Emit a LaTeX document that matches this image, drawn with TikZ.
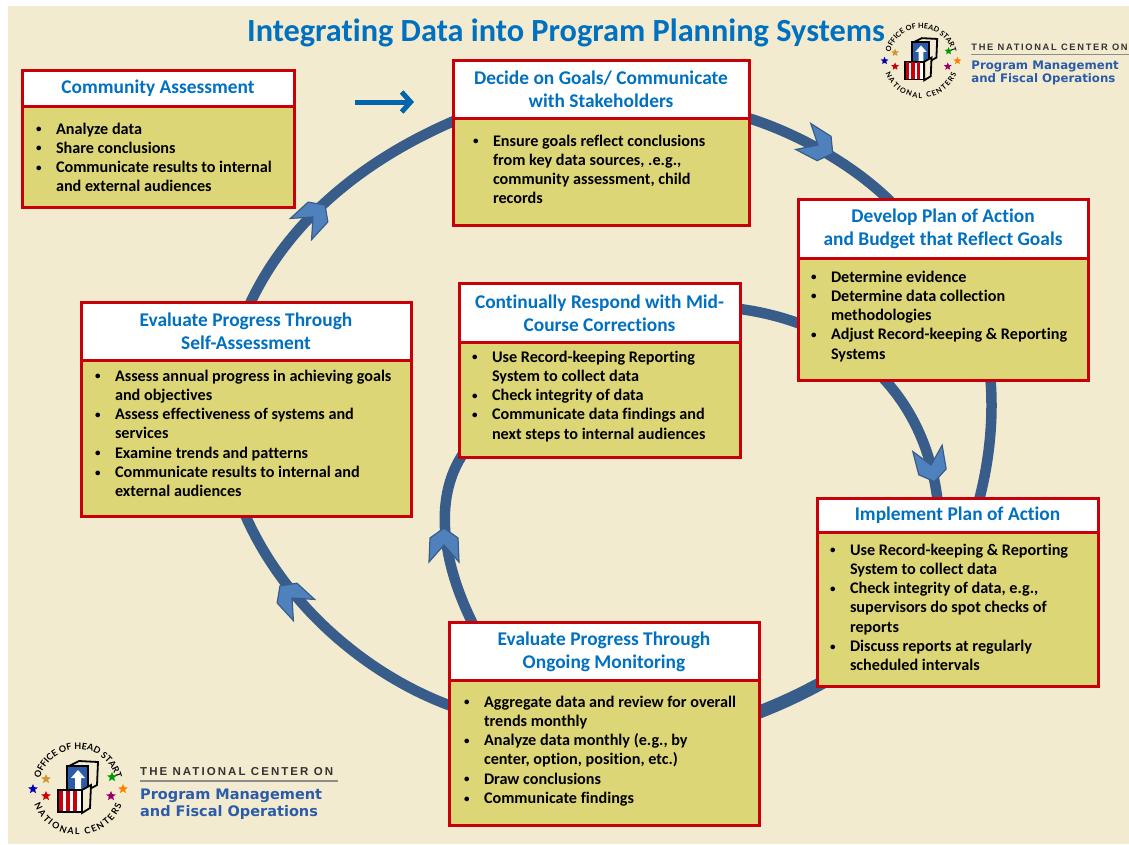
\documentclass[tikz,border=0pt]{standalone}
\usepackage{fontspec}
\setmainfont[Ligatures=NoCommon]{Carlito}
\newfontfamily\ringfont{Lato}
\newfontfamily\centerfont[LetterSpace=18]{Liberation Sans}
\newfontfamily\programfont{DejaVu Sans}
\usetikzlibrary{calc,arrows.meta,backgrounds,shapes.geometric,decorations.text}

\definecolor{paper}{RGB}{243,235,208}
\definecolor{boxred}{RGB}{200,0,10}
\definecolor{boxyellow}{RGB}{221,214,118}
\definecolor{headblue}{RGB}{0,112,192}
\definecolor{ringblue}{RGB}{56,93,138}
\definecolor{tipblue}{RGB}{79,129,189}
\definecolor{logoblue}{RGB}{42,92,170}

\tikzset{
	headbox/.style={draw=boxred,fill=white,line width=3pt,outer sep=0pt,inner sep=0pt,anchor=north west,
		align=center,text=headblue,font=\fontsize{19.4}{23}\selectfont\bfseries},
	bodybox/.style={draw=boxred,fill=boxyellow,line width=3pt,outer sep=0pt,inner sep=0pt,anchor=north west,
		font=\fontsize{16.2}{19.3}\selectfont\bfseries},
	ring/.style={draw=ringblue,line width=10.5pt},
	tipshape/.style={draw=ringblue,fill=tipblue,line width=1.2pt},
	logostar/.style={star,star points=5,star point ratio=2.2,inner sep=0pt,minimum size=10pt}
}

\newcommand{\bl}{\makebox[20pt][l]{\raisebox{1.5pt}{\fontsize{11}{11}\selectfont\textbullet}}}
\newcommand{\cl}{\hspace*{20pt}}
\newcommand{\bodytext}[5]{\parbox[c][#2pt][t]{#1pt}{\raggedright\leftskip=#3pt\relax\noindent\rule{0pt}{#4pt}\ignorespaces#5\par}}
\def\ringtip(#1,#2)[#3]{\draw[tipshape,shift={(#1,#2)},rotate=#3] (17,0) -- (7,14) -- (-17,15) -- (0,0) -- (-17,-15) -- (7,-14) -- cycle;}

\def\centerlogo(#1,#2)[#3][#4]{
	\pgfmathsetmacro{\ringsize}{9*#3}
	\begin{scope}[shift={(#1,#2)},scale=#3,name prefix=#4,every node/.append style={transform shape}]
		\path[decorate,decoration={text along path,text align={fit to path},text={|\fontsize{\ringsize}{\ringsize}\selectfont\ringfont\bfseries|OFFICE OF HEAD START}}]
			(166:39pt) arc[start angle=166,end angle=14,radius=39pt];
		\path[decorate,decoration={text along path,text align={fit to path},text={|\fontsize{\ringsize}{\ringsize}\selectfont\ringfont\bfseries|NATIONAL CENTERS}}]
			(201:47pt) arc[start angle=201,end angle=339,radius=47pt];

		\draw[fill=paper,line width=1.8pt] (-9,-22) -- (1,-27) -- (20,-26) -- (19,-3) -- (10,2) -- cycle;
		\draw[fill=logoblue,line width=1.8pt] (-11,-22) rectangle (10,2);
		\fill[white] (0,-18) -- (7,-10) -- (3,-10) -- (3,1) -- (-3,1) -- (-3,-10) -- (-7,-10) -- cycle;
		\draw[fill=paper,line width=1.8pt] (4,2) -- (13,-3) -- (12,20) -- (4,25) -- cycle;
		\draw[fill=white,line width=1.8pt] (-20,2) rectangle (4,24);
		\fill[boxred] (-19,3) rectangle (-15,23);
		\fill[boxred] (-12,3) rectangle (-8,23);
		\fill[boxred] (-5,3) rectangle (-1,23);

		\node[logostar,fill=brown!80!yellow] (star1) at (-32,-9) {};
		\node[logostar,fill=blue!70!black] (star2) at (-45,1) {};
		\node[logostar,fill=red!80!black] (star3) at (-32,8) {};
		\node[logostar,fill=green!60!black] (star4) at (34,-11) {};
		\node[logostar,fill=orange] (star5) at (45,1) {};
		\node[logostar,fill=violet!80!red] (star6) at (33,8) {};

		\node[anchor=west,inner sep=0pt,text=black!80,font=\fontsize{11.5}{12}\selectfont\centerfont\bfseries] (center) at (62,-16) {THE NATIONAL CENTER ON};
		\draw[black!45,line width=1.2pt] (62,-7) -- (260,-7);
		\node[anchor=west,inner sep=0pt,text=logoblue,font=\fontsize{14.5}{15}\selectfont\programfont\bfseries] (program) at (62,8) {Program Management};
		\node[anchor=west,inner sep=0pt,text=logoblue,font=\fontsize{14.5}{15}\selectfont\programfont\bfseries] (fiscal) at (62,24) {and Fiscal Operations};
	\end{scope}
}

\begin{document}
\begin{tikzpicture}[x=1pt,y=-1pt]
	\useasboundingbox (0,0) rectangle (1129,844);

	%%%%% TITLE %%%%%
	\node[text=headblue,inner sep=0pt,font=\fontsize{32.3}{34}\selectfont\bfseries] (title) at (566,33) {Integrating Data into Program Planning Systems};

	%%%%% BOXES %%%%%
	\node[headbox,minimum width=272pt,minimum height=36pt] (communityhead) at (22,70) {\rule{0pt}{15pt}Community Assessment};
	\node[bodybox] (communitybody) at (communityhead.south west) {\bodytext{272}{101}{14}{28}{
		\bl Analyze data\\
		\bl Share conclusions\\
		\bl Communicate results to internal\\
		\cl and external audiences}};

	\node[headbox,minimum width=296pt,minimum height=58pt] (goalhead) at (453,60) {\rule{0pt}{15pt}Decide on Goals/ Communicate\\with Stakeholders};
	\node[bodybox] (goalbody) at (goalhead.south west) {\bodytext{296}{107}{20}{28}{
		\bl Ensure goals reflect conclusions\\
		\cl from key data sources, .e.g.,\\
		\cl community assessment, child\\
		\cl records}};

	\node[headbox,minimum width=290pt,minimum height=59pt] (planhead) at (798,199) {\rule{0pt}{15pt}Develop Plan of Action\\and Budget that Reflect Goals};
	\node[bodybox] (planbody) at (planhead.south west) {\bodytext{290}{122}{13}{24}{
		\bl Determine evidence\\
		\bl Determine data collection\\
		\cl methodologies\\
		\bl Adjust Record-keeping \& Reporting\\
		\cl Systems}};

	\node[headbox,minimum width=281pt,minimum height=59pt] (respondhead) at (459,283) {\rule{0pt}{15pt}Continually Respond with Mid-\\Course Corrections};
	\node[bodybox] (respondbody) at (respondhead.south west) {\bodytext{281}{115}{13}{20}{
		\bl Use Record-keeping Reporting\\
		\cl System to collect data\\
		\bl Check integrity of data\\
		\bl Communicate data findings and\\
		\cl next steps to internal audiences}};

	\node[headbox,minimum width=330pt,minimum height=58pt] (selfhead) at (81,302) {\rule{0pt}{15pt}Evaluate Progress Through\\Self-Assessment};
	\node[bodybox] (selfbody) at (selfhead.south west) {\bodytext{330}{156}{14}{21}{
		\bl Assess annual progress in achieving goals\\
		\cl and objectives\\
		\bl Assess effectiveness of systems and\\
		\cl services\\
		\bl Examine trends and patterns\\
		\bl Communicate results to internal and\\
		\cl external audiences}};

	\node[headbox,minimum width=281pt,minimum height=34pt] (implementhead) at (817,498) {\rule{0pt}{15pt}Implement Plan of Action};
	\node[bodybox] (implementbody) at (implementhead.south west) {\bodytext{281}{154}{13}{23}{
		\bl Use Record-keeping \& Reporting\\
		\cl System to collect data\\
		\bl Check integrity of data, e.g.,\\
		\cl supervisors do spot checks of\\
		\cl reports\\
		\bl Discuss reports at regularly\\
		\cl scheduled intervals}};

	\node[headbox,minimum width=310pt,minimum height=58pt] (monitorhead) at (449,622) {\rule{0pt}{15pt}Evaluate Progress Through\\Ongoing Monitoring};
	\node[bodybox] (monitorbody) at (monitorhead.south west) {\bodytext{310}{145}{15}{27}{
		\bl Aggregate data and review for overall\\
		\cl trends monthly\\
		\bl Analyze data monthly (e.g., by\\
		\cl center, option, position, etc.)\\
		\bl Draw conclusions\\
		\bl Communicate findings}};

	%%%%% RINGS %%%%%
	\begin{scope}[on background layer]
		\fill[paper] (8,6) rectangle (1129,844);

		\draw[ring] ($(selfhead.north west)+(167,6)$) .. controls (285,225) and (360,160) .. ($(goalbody.north west)+(8,0)$);
		\draw[ring] ($(goalbody.north east)+(-8,-2)$) .. controls (785,128) and (850,160) .. ($(planhead.north west)+(96,6)$);
		\draw[ring] ($(planbody.south east)+(-98,-6)$) .. controls (994,415) and (990,460) .. ($(implementhead.north east)+(-120,6)$);
		\draw[ring,line width=13pt] ($(implementbody.south west)+(10,-6)$) .. controls (798,696) and (778,705) .. ($(monitorbody.north east)+(-10,36)$);
		\draw[ring] ($(monitorbody.north west)+(8,28)$) .. controls (375,680) and (285,610) .. ($(selfbody.south west)+(162,-6)$);

		\draw[ring] ($(respondhead.north east)+(-8,25)$) .. controls (840,320) and (925,385) .. ($(implementhead.north west)+(121,6)$);
		\draw[ring] ($(monitorhead.north west)+(26,6)$) .. controls (445,570) and (430,500) .. ($(respondbody.south west)+(6,-6)$);

		\ringtip(818,145)[-30]
		\ringtip(931,465)[-78]
		\ringtip(444,545)[90]
		\ringtip(292,598)[135]
		\ringtip(313,217)[45]
	\end{scope}

	\coordinate (starttail) at (355,102);
	\coordinate (starthead) at (414,102);
	\draw[headblue!90!black,line width=5pt,-{Straight Barb[length=9pt,width=20pt]}] (starttail) -- (starthead);

	%%%%% LOGOS %%%%%
	\centerlogo(78,788)[1][low]
	\centerlogo(921,60)[0.81][top]
\end{tikzpicture}
\end{document}
